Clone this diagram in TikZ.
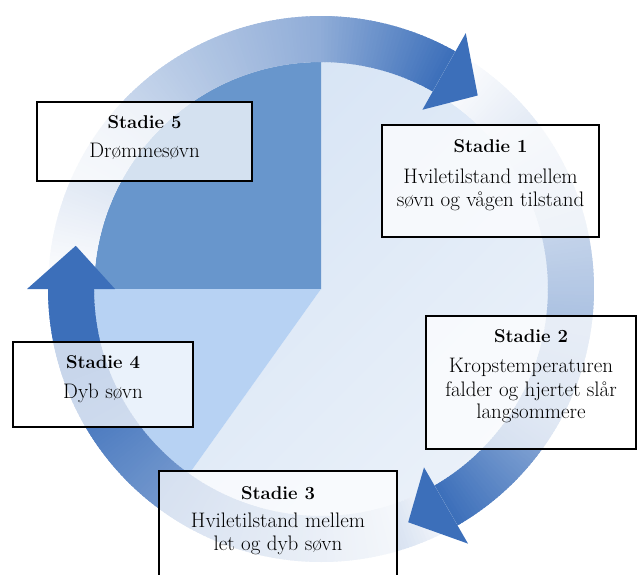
\documentclass[tikz,border=0pt]{standalone}
\usepackage{fontspec}
\definecolor{arrowdark}{RGB}{60,111,186}
\definecolor{piedark}{RGB}{104,150,204}
\definecolor{pielight}{RGB}{183,210,243}
\definecolor{restdark}{RGB}{216,229,245}
\definecolor{restlight}{RGB}{236,242,250}
\tikzset{
  box/.style={draw=black, line width=1.3pt, fill=white, fill opacity=0.72, inner sep=0pt},
  ttl/.style={font=\fontsize{18.5}{22}\selectfont\bfseries, inner sep=0pt, anchor=base},
  txt/.style={font=\fontsize{21}{24}\selectfont, inner sep=0pt, anchor=base},
  headfill/.style={fill=arrowdark}
}
\begin{document}
\begin{tikzpicture}[x=1pt,y=-1pt]
\useasboundingbox (0,0) rectangle (637,574);
\begin{scope}[shift={(321,289)}, y=1pt]
  % pie
  \shade[bottom color=restlight, top color=restdark, shading angle=45]
    (0,0) -- (234.5:227) arc[start angle=234.5, end angle=450, radius=227] -- cycle;
  \fill[piedark] (0,0) -- (90:227) arc[start angle=90, end angle=180, radius=227] -- cycle;
  \fill[pielight] (0,0) -- (180:227) arc[start angle=180, end angle=234.5, radius=227] -- cycle;
  % arrow 1 shaft (180 -> 60.5)
  \foreach \i in {0,...,149}{
    \pgfmathsetmacro{\angA}{180-0.796667*\i}
    \pgfmathsetmacro{\angB}{180-0.796667*(\i+1.6)}
    \pgfmathsetmacro{\tpar}{(\i+0.5)/150}
    \pgfmathsetmacro{\fpar}{100*((\tpar<0.75) ? (0.76*\tpar) : (0.57+1.72*(\tpar-0.75)))}
    \fill[arrowdark!\fpar!white] (\angA:227) arc[start angle=\angA, end angle=\angB, radius=227]
      -- (\angB:273) arc[start angle=\angB, end angle=\angA, radius=273] -- cycle;
  }
  % arrow 2 shaft (60.5 -> -60)
  \foreach \i in {0,...,149}{
    \pgfmathsetmacro{\angA}{60.5-0.803333*\i}
    \pgfmathsetmacro{\angB}{60.5-0.803333*(\i+1.6)}
    \pgfmathsetmacro{\tpar}{(\i+0.5)/150}
    \pgfmathsetmacro{\fpar}{100*((\tpar<0.75) ? (0.76*\tpar) : (0.57+1.72*(\tpar-0.75)))}
    \fill[arrowdark!\fpar!white] (\angA:227) arc[start angle=\angA, end angle=\angB, radius=227]
      -- (\angB:273) arc[start angle=\angB, end angle=\angA, radius=273] -- cycle;
  }
  % arrow 3 shaft (-60 -> -180)
  \foreach \i in {0,...,149}{
    \pgfmathsetmacro{\angA}{-60-0.8*\i}
    \pgfmathsetmacro{\angB}{-60-0.8*(\i+1.6)}
    \pgfmathsetmacro{\tpar}{(\i+0.5)/150}
    \pgfmathsetmacro{\fpar}{100*min(1,1.15*\tpar^0.8)}
    \fill[arrowdark!\fpar!white] (\angA:227) arc[start angle=\angA, end angle=\angB, radius=227]
      -- (\angB:273) arc[start angle=\angB, end angle=\angA, radius=273] -- cycle;
  }
  % arrow heads
  \fill[headfill] (60.5:206) -- (60.5:294) -- (51:249) -- cycle;
  \fill[headfill] (-60:206) -- (-60:294) -- (-69.5:249) -- cycle;
  \fill[headfill] (180:206) -- (180:294) -- (170:249) -- cycle;
\end{scope}

% boxes
\node[box, minimum width=215pt, minimum height=79pt] (b5) at (144.5,141.5) {};
\node[box, minimum width=217pt, minimum height=112pt] (b1) at (490.5,181) {};
\node[box, minimum width=210pt, minimum height=133pt] (b2) at (531,382.5) {};
\node[box, minimum width=180pt, minimum height=85pt] (b4) at (103,384.5) {};
\node[box, minimum width=238pt, minimum height=119pt] (b3) at (278,530.5) {};

% texts
\node[ttl] (t5) at (144.5,128) {Stadie 5};
\node[txt] (t5a) at (144.5,157) {Drømmesøvn};

\node[ttl] (t1) at (490.5,152.3) {Stadie 1};
\node[txt] (t1a) at (490.5,183.3) {Hviletilstand mellem};
\node[txt] (t1b) at (490.5,206.7) {søvn og vågen tilstand};

\node[ttl] (t2) at (531,342.7) {Stadie 2};
\node[txt] (t2a) at (531,372.7) {Kropstemperaturen};
\node[txt] (t2b) at (531,396) {falder og hjertet slår};
\node[txt] (t2c) at (531,418.5) {langsommere};

\node[ttl] (t4) at (103,368.3) {Stadie 4};
\node[txt] (t4a) at (103,398.3) {Dyb søvn};

\node[ttl] (t3) at (278,499) {Stadie 3};
\node[txt] (t3a) at (278,527) {Hviletilstand mellem};
\node[txt] (t3b) at (278,550) {let og dyb søvn};
\end{tikzpicture}
\end{document}
